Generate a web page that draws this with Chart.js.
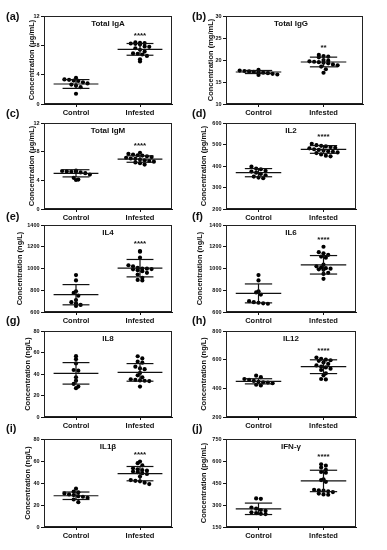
<!DOCTYPE html>
<html>
<head>
<meta charset="utf-8">
<script src="https://cdn.jsdelivr.net/npm/chart.js@4.4.0/dist/chart.umd.min.js"></script>
<style>
    body { margin: 0; background: #fff; width: 387px; height: 550px; position: relative; overflow: hidden;
           font-family: Arial, "Liberation Sans", sans-serif; }
    canvas { position: absolute; }
    .tag { position: absolute; font-weight: bold; font-size: 11px; color: #111; line-height: 12px; z-index: 2; }
</style>
</head>
<body>
<script>
// ---- data ----
const groups = ['Control', 'Infested'];
const panelTags = ['(a)', '(b)', '(c)', '(d)', '(e)', '(f)', '(g)', '(h)', '(i)', '(j)'];
const titles = ['Total IgA', 'Total IgG', 'Total IgM', 'IL2', 'IL4', 'IL6', 'IL8', 'IL12', 'IL1\u03B2', 'IFN-\u03B3'];
const units = ['\u03BCg/mL', 'mg/mL', '\u03BCg/mL', 'pg/mL', 'ng/L', 'ng/L', 'ng/L', 'ng/L', 'ng/L', 'pg/mL'];
const yMin = [0, 10, 0, 200, 600, 600, 0, 200, 0, 150];
const yMax = [12, 30, 12, 600, 1400, 1400, 80, 800, 80, 750];
const yStep = [4, 5, 4, 100, 200, 200, 20, 200, 20, 150];
const signif = ['****', '**', '****', '****', '****', '****', '', '****', '****', '****'];

const controlVals = [
    [3.55, 3.35, 3.3, 3.2, 3.15, 2.95, 2.8, 2.65, 2.5, 2.3, 1.4],
    [17.75, 17.6, 17.5, 17.4, 17.3, 17.2, 17.1, 17.0, 16.85, 16.7, 16.6],
    [5.35, 5.3, 5.25, 5.2, 5.2, 5.1, 5.0, 4.8, 4.35, 4.1, 4.05],
    [397, 388, 385, 378, 374, 369, 363, 357, 351, 346, 343],
    [940, 890, 790, 775, 750, 710, 690, 680, 665, 655],
    [940, 890, 790, 780, 760, 700, 690, 685, 680, 676],
    [56.6, 53.8, 49.8, 43.7, 43.1, 36.9, 33.8, 30.8, 28.3, 26.8],
    [488, 478, 465, 460, 452, 446, 442, 440, 436, 425, 420],
    [34.8, 32.2, 31.5, 30.5, 29.6, 29, 28, 27.5, 26.6, 25, 22.6],
    [345, 342, 283, 275, 266, 260, 250, 245, 240, 238]
];
const infestedVals = [
    [8.4, 8.35, 8.3, 8.25, 8.2, 8.1, 7.85, 7.8, 7.6, 7.4, 7.15, 6.9, 6.85, 6.75, 6.55, 6.1, 5.8],
    [21.15, 20.9, 20.75, 20.6, 20.0, 19.85, 19.7, 19.6, 19.5, 19.4, 19.25, 19.0, 18.8, 18.5, 17.9, 17.1],
    [7.85, 7.7, 7.6, 7.5, 7.45, 7.35, 7.25, 7.15, 7.05, 7.0, 6.9, 6.8, 6.7, 6.6, 6.5, 6.4, 6.2],
    [503, 497, 494, 491, 488, 485, 482, 478, 475, 472, 469, 466, 463, 460, 454, 448, 445],
    [1160, 1155, 1100, 1030, 1020, 1005, 1000, 998, 995, 992, 985, 975, 960, 945, 915, 895, 890],
    [1200, 1150, 1140, 1125, 1110, 1100, 1035, 1020, 1010, 1003, 998, 992, 988, 960, 950, 905],
    [56.5, 54.5, 51.5, 50.5, 46.8, 45.2, 44.5, 41, 38.8, 36.9, 35.1, 34.5, 34, 33.7, 33.4, 28.3],
    [615, 606, 600, 596, 592, 580, 570, 560, 551, 546, 537, 528, 505, 491, 465, 462],
    [59.5, 58, 56, 53.4, 52.4, 51.8, 51.2, 50.4, 49.8, 48.9, 48.2, 45.8, 42.7, 42, 41.5, 40.3, 39],
    [578, 568, 555, 540, 525, 520, 475, 470, 458, 404, 400, 398, 393, 388, 378, 372, 370]
];
// mean and SD of each group as drawn [control, infested]
const meanVals = [[2.73, 7.45], [17.27, 19.55], [4.98, 6.97], [369, 477], [759, 1003],
                  [771, 1034], [40.6, 41.5], [449, 551], [28.4, 48.5], [274, 464]];
const sdVals = [[0.6, 0.8], [0.35, 1.1], [0.5, 0.45], [19, 18], [93, 80],
                [87, 85], [10, 8.2], [18, 48], [3.4, 6.5], [39, 73]];

// ---- layout (pixels) ----
const rowTop = [16, 123, 225, 331, 439];
const rowBottom = [104, 209, 312, 417, 527];
const tagTop = [10, 107, 210, 314, 422];
const titleCenterX = [32, 211, 32, 204, 20, 200, 28, 204, 28, 204];
const FONT = 'Arial, "Liberation Sans", sans-serif';
Chart.defaults.font.family = FONT;

// spread points of similar value side by side, like a dot plot
function spread(vals, g, lo, hi, h) {
    const bins = {};
    vals.forEach(v => {
        const b = Math.round((v - lo) / (hi - lo) * h / 4.5);
        (bins[b] = bins[b] || []).push(v);
    });
    const pts = [];
    Object.values(bins).forEach(list => {
        list.forEach((v, k) => {
            pts.push({ x: g + (k - (list.length - 1) / 2) * 4.7 / 65, y: v });
        });
    });
    return pts;
}

function seg(x0, x1, y0, y1) {
    return { data: [{ x: x0, y: y0 }, { x: x1, y: y1 }], showLine: true, borderColor: '#111',
             borderWidth: 1.2, pointRadius: 0, fill: false };
}

const decor = {
    id: 'decor',
    afterDatasetsDraw(chart, args, opts) {
        const { ctx, chartArea: a, scales } = chart;
        ctx.save();
        ctx.strokeStyle = '#222';
        ctx.lineWidth = 1;
        ctx.strokeRect(a.left + 0.5, a.top + 0.5, a.width - 1, a.height - 1);
        ctx.fillStyle = '#111';
        ctx.textAlign = 'center';
        ctx.textBaseline = 'middle';
        ctx.font = 'bold 8px ' + FONT;
        ctx.fillText(opts.title, scales.x.getPixelForValue(0.5), a.top + 7.5);
        if (opts.stars) {
            ctx.font = 'bold 8px ' + FONT;
            ctx.fillText(opts.stars, scales.x.getPixelForValue(1), scales.y.getPixelForValue(opts.top) - 7);
        }
        ctx.restore();
    }
};

for (let i = 0; i < 10; i++) {
    const col = i % 2, row = Math.floor(i / 2);
    const left = col ? 190 : 0;
    const axisW = col ? 36 : 44;
    const plotRight = col ? (i === 1 ? 364 : 357) : 173;
    const xMax = i === 1 ? 1.607 : 1.5;
    const top = rowTop[row] - 5;
    const plotH = rowBottom[row] - rowTop[row];
    const width = plotRight + 3 - left;
    const height = plotH + 5 + 14;

    const tag = document.createElement('div');
    tag.className = 'tag';
    tag.textContent = panelTags[i];
    tag.style.left = (col ? 192 : 6) + 'px';
    tag.style.top = tagTop[row] + 'px';
    document.body.appendChild(tag);

    const cv = document.createElement('canvas');
    cv.width = width; cv.height = height;
    cv.style.left = left + 'px'; cv.style.top = top + 'px';
    cv.style.width = width + 'px'; cv.style.height = height + 'px';
    document.body.appendChild(cv);

    const datasets = [];
    [controlVals[i], infestedVals[i]].forEach((vals, g) => {
        const m = meanVals[i][g], s = sdVals[i][g];
        datasets.push(seg(g - 0.35, g + 0.35, m, m));
        datasets.push(seg(g - 0.21, g + 0.21, m + s, m + s));
        datasets.push(seg(g - 0.21, g + 0.21, m - s, m - s));
        datasets.push(seg(g, g, m - s, m + s));
        datasets.push({ data: spread(vals, g, yMin[i], yMax[i], plotH), pointRadius: 2.1,
                        pointBackgroundColor: '#000', pointBorderWidth: 0, showLine: false });
    });

    new Chart(cv, {
        type: 'scatter',
        data: { datasets: datasets },
        plugins: [decor],
        options: {
            responsive: false,
            animation: false,
            events: [],
            layout: { padding: { top: 5, right: 3, bottom: 0, left: 0 } },
            plugins: {
                legend: { display: false },
                tooltip: { enabled: false },
                decor: { title: titles[i], stars: signif[i], top: Math.max.apply(null, infestedVals[i]) }
            },
            scales: {
                x: {
                    type: 'linear', min: -0.5, max: xMax,
                    afterBuildTicks: s => { s.ticks = [{ value: 0 }, { value: 1 }]; },
                    afterFit: s => { s.height = 14; },
                    ticks: { callback: v => groups[v], font: { size: 7.5, weight: 'bold' }, color: '#111',
                             padding: 1, maxRotation: 0, autoSkip: false },
                    grid: { drawOnChartArea: false, tickLength: 3, color: '#111' },
                    border: { color: '#111' }
                },
                y: {
                    min: yMin[i], max: yMax[i],
                    afterFit: s => { s.width = axisW; },
                    ticks: { stepSize: yStep[i], callback: v => String(v), font: { size: 5.5, weight: 'bold' },
                             color: '#111', padding: 1.5 },
                    grid: { drawOnChartArea: false, tickLength: 3, color: '#111' },
                    border: { color: '#111' },
                    title: { display: true, text: 'Concentration (' + units[i] + ')', color: '#111',
                             font: { size: 7.5, weight: 'bold' },
                             padding: { top: titleCenterX[i] - left - 4.5, bottom: 0 } }
                }
            }
        }
    });
}
</script>
</body>
</html>
